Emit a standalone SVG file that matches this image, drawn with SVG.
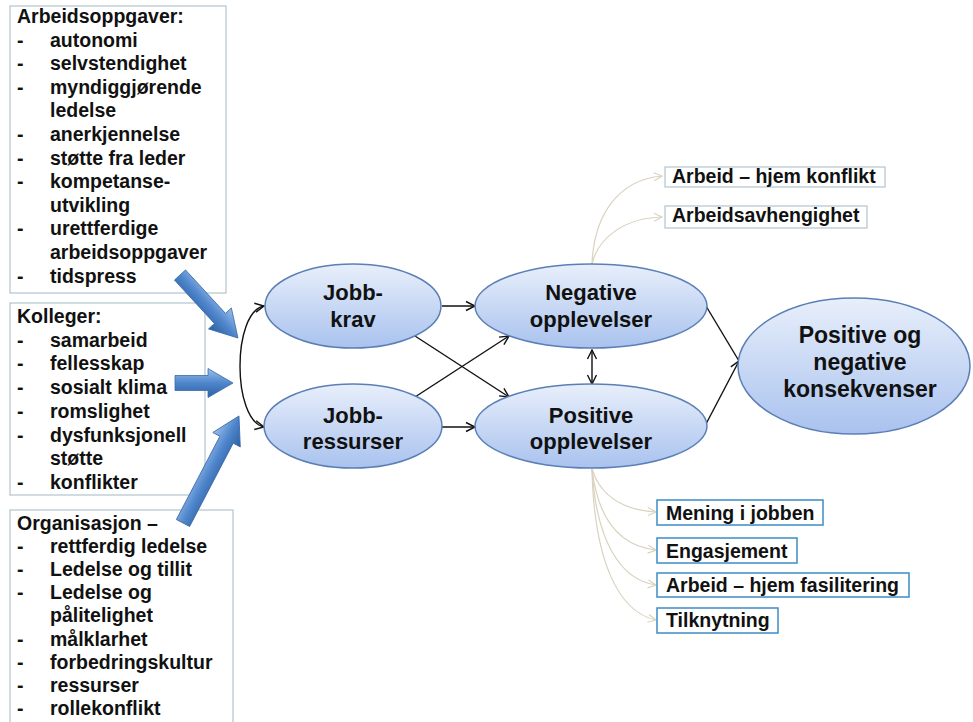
<svg xmlns="http://www.w3.org/2000/svg" width="973" height="722" viewBox="0 0 973 722">
<style>
text{font-family:"Liberation Sans",Arial,sans-serif;font-weight:bold;fill:#111}
.t{font-size:19.5px}
.e{font-size:22px;text-anchor:middle}
.k{font-size:23px;text-anchor:middle}
.box{fill:#fff;stroke:#b3c3cf;stroke-width:1.2}
.bbox{fill:#fff;stroke:#3d8cc6;stroke-width:1.5}
.ell{fill:url(#eg);stroke:#5b7fb5;stroke-width:1.5}
.c{fill:none;stroke:#111;stroke-width:1.4}
.b{fill:none;stroke:#d9d3bf;stroke-width:1.2}
.ba{fill:url(#ag);stroke:#3a6aa8;stroke-width:0.8}
</style>
<defs>
<linearGradient id="eg" x1="0" y1="0" x2="0" y2="1">
<stop offset="0" stop-color="#e8effb"/>
<stop offset="1" stop-color="#a9c2ee"/>
</linearGradient>
<linearGradient id="ag" x1="0" y1="0" x2="0" y2="1">
<stop offset="0" stop-color="#9cc0ec"/>
<stop offset="0.5" stop-color="#4f86cc"/>
<stop offset="1" stop-color="#2d5f9f"/>
</linearGradient>
<marker id="ah" markerUnits="userSpaceOnUse" markerWidth="12" markerHeight="12" refX="10" refY="5" orient="auto-start-reverse" viewBox="0 0 12 10">
<path d="M1,0.5 L10,5 L1,9.5" fill="none" stroke="#111" stroke-width="1.4"/>
</marker>
<marker id="bh" markerUnits="userSpaceOnUse" markerWidth="12" markerHeight="12" refX="9" refY="5" orient="auto" viewBox="0 0 12 10">
<path d="M1,1 L9,5 L1,9" fill="none" stroke="#d9d3bf" stroke-width="1.2"/>
</marker>
</defs>
<rect width="973" height="722" fill="#fff"/>

<g id="box-arbeidsoppgaver">
<rect class="box" x="10" y="6" width="216" height="287"/>
<text class="t" x="17" y="23">Arbeidsoppgaver:</text>
<text class="t" x="17" y="46.6">-</text><text class="t" x="50" y="46.6">autonomi</text>
<text class="t" x="17" y="70.2">-</text><text class="t" x="50" y="70.2">selvstendighet</text>
<text class="t" x="17" y="93.8">-</text><text class="t" x="50" y="93.8">myndiggjørende</text>
<text class="t" x="50" y="117.4">ledelse</text>
<text class="t" x="17" y="141">-</text><text class="t" x="50" y="141">anerkjennelse</text>
<text class="t" x="17" y="164.6">-</text><text class="t" x="50" y="164.6">støtte fra leder</text>
<text class="t" x="17" y="188.2">-</text><text class="t" x="50" y="188.2">kompetanse-</text>
<text class="t" x="50" y="211.8">utvikling</text>
<text class="t" x="17" y="235.4">-</text><text class="t" x="50" y="235.4">urettferdige</text>
<text class="t" x="50" y="259">arbeidsoppgaver</text>
<text class="t" x="17" y="282.6">-</text><text class="t" x="50" y="282.6">tidspress</text>
</g>

<g id="box-kolleger">
<rect class="box" x="10" y="303" width="195" height="192"/>
<text class="t" x="17" y="323">Kolleger:</text>
<text class="t" x="17" y="346.7">-</text><text class="t" x="50" y="346.7">samarbeid</text>
<text class="t" x="17" y="370.4">-</text><text class="t" x="50" y="370.4">fellesskap</text>
<text class="t" x="17" y="394.1">-</text><text class="t" x="50" y="394.1">sosialt klima</text>
<text class="t" x="17" y="417.8">-</text><text class="t" x="50" y="417.8">romslighet</text>
<text class="t" x="17" y="441.5">-</text><text class="t" x="50" y="441.5">dysfunksjonell</text>
<text class="t" x="50" y="465.2">støtte</text>
<text class="t" x="17" y="488.9">-</text><text class="t" x="50" y="488.9">konflikter</text>
</g>

<g id="box-organisasjon">
<rect class="box" x="10" y="510" width="223" height="230"/>
<text class="t" x="17" y="530">Organisasjon –</text>
<text class="t" x="17" y="553.1">-</text><text class="t" x="50" y="553.1">rettferdig ledelse</text>
<text class="t" x="17" y="576.2">-</text><text class="t" x="50" y="576.2">Ledelse og tillit</text>
<text class="t" x="17" y="599.3">-</text><text class="t" x="50" y="599.3">Ledelse og</text>
<text class="t" x="50" y="622.4">pålitelighet</text>
<text class="t" x="17" y="645.5">-</text><text class="t" x="50" y="645.5">målklarhet</text>
<text class="t" x="17" y="668.6">-</text><text class="t" x="50" y="668.6">forbedringskultur</text>
<text class="t" x="17" y="691.7">-</text><text class="t" x="50" y="691.7">ressurser</text>
<text class="t" x="17" y="714.8">-</text><text class="t" x="50" y="714.8">rollekonflikt</text>
</g>

<g id="block-arrows">
<path class="ba" transform="translate(180,275) rotate(47.4)" d="M0,-7.5 L59,-7.5 L59,-15.5 L85.6,0 L59,15.5 L59,7.5 L0,7.5 Z"/>
<path class="ba" transform="translate(175,383)" d="M0,-7.5 L33,-7.5 L33,-14.5 L58,0 L33,14.5 L33,7.5 L0,7.5 Z"/>
<path class="ba" transform="translate(183,523) rotate(-62.4)" d="M0,-7.5 L94,-7.5 L94,-15.5 L120.8,0 L94,15.5 L94,7.5 L0,7.5 Z"/>
</g>

<g id="connectors">
<path class="c" d="M264,306 C232,312 232,420 264,427" marker-start="url(#ah)" marker-end="url(#ah)"/>
<path class="c" d="M442,306 L475,306" marker-end="url(#ah)"/>
<path class="c" d="M442,427 L475,427" marker-end="url(#ah)"/>
<path class="c" d="M415,336 L509,397" marker-end="url(#ah)"/>
<path class="c" d="M415,397 L509,336" marker-end="url(#ah)"/>
<path class="c" d="M592,350 L592,384" marker-start="url(#ah)" marker-end="url(#ah)"/>
<path class="c" d="M706,306 L739,361"/>
<path class="c" d="M706,424 L739,361" marker-end="url(#ah)"/>
<path class="b" d="M592,264 C594,215 618,180 662,176" marker-end="url(#bh)"/>
<path class="b" d="M592,264 C598,238 624,218 662,217" marker-end="url(#bh)"/>
<path class="b" d="M592,469 C600,495 622,510 656,512" marker-end="url(#bh)"/>
<path class="b" d="M592,469 C598,520 620,546 656,550" marker-end="url(#bh)"/>
<path class="b" d="M592,469 C596,540 620,580 656,585" marker-end="url(#bh)"/>
<path class="b" d="M592,469 C594,560 618,612 656,620" marker-end="url(#bh)"/>
</g>

<g id="jobbkrav">
<ellipse class="ell" cx="353" cy="306" rx="88" ry="42"/>
<text class="e" x="353" y="300">Jobb-</text>
<text class="e" x="353" y="327">krav</text>
</g>
<g id="jobbressurser">
<ellipse class="ell" cx="353" cy="426" rx="89" ry="42"/>
<text class="e" x="353" y="423">Jobb-</text>
<text class="e" x="353" y="449">ressurser</text>
</g>
<g id="negative">
<ellipse class="ell" cx="591" cy="306" rx="116" ry="42"/>
<text class="e" x="591" y="300">Negative</text>
<text class="e" x="591" y="327">opplevelser</text>
</g>
<g id="positive">
<ellipse class="ell" cx="591" cy="426" rx="116" ry="42"/>
<text class="e" x="591" y="423">Positive</text>
<text class="e" x="591" y="449">opplevelser</text>
</g>
<g id="konsekvenser">
<ellipse class="ell" cx="854" cy="366" rx="116" ry="68"/>
<text class="k" x="860" y="343">Positive og</text>
<text class="k" x="860" y="370">negative</text>
<text class="k" x="860" y="397">konsekvenser</text>
</g>

<g id="out-konflikt">
<rect class="box" x="665" y="167" width="220" height="20"/>
<text class="t" x="672" y="183">Arbeid – hjem konflikt</text>
</g>
<g id="out-avhengighet">
<rect class="box" x="665" y="206" width="202" height="22"/>
<text class="t" x="672" y="222">Arbeidsavhengighet</text>
</g>
<g id="out-mening">
<rect class="bbox" x="657" y="500" width="166" height="25"/>
<text class="t" x="666" y="520">Mening i jobben</text>
</g>
<g id="out-engasjement">
<rect class="bbox" x="657" y="538" width="140" height="25"/>
<text class="t" x="666" y="558">Engasjement</text>
</g>
<g id="out-fasilitering">
<rect class="bbox" x="657" y="573" width="252" height="24"/>
<text class="t" x="666" y="592">Arbeid – hjem fasilitering</text>
</g>
<g id="out-tilknytning">
<rect class="bbox" x="657" y="608" width="121" height="25"/>
<text class="t" x="666" y="627">Tilknytning</text>
</g>
</svg>
